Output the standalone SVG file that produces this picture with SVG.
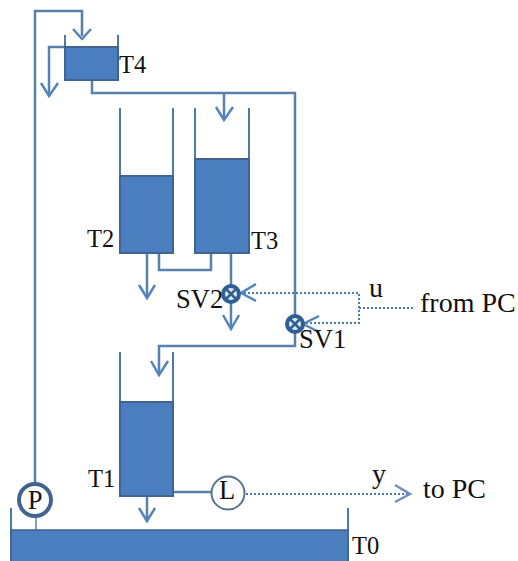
<svg xmlns="http://www.w3.org/2000/svg" width="518" height="561" viewBox="0 0 518 561">
<style>
.pipe{fill:none;stroke:#5a80ad;stroke-width:2.500}
.wall{fill:none;stroke:#4f79a9;stroke-width:2}
.arrow{fill:none;stroke:#5484bb;stroke-width:2.500}
.dot{fill:none;stroke:#4f79a9;stroke-width:2;stroke-dasharray:2 2}
.tank{fill:#4a7ebf;stroke:#41638f;stroke-width:2}
text{font-family:"Liberation Serif","Times New Roman",serif;font-size:24.500px;fill:#111}
.big{font-size:28px}
.mid{font-size:26.500px}
</style>
<rect width="518" height="561" fill="#fff"/>
<g id="connectors">
<path class="pipe" d="M35 484V11H82V36"/>
<path class="arrow" d="M73 29L82 39L91 29"/>
<path class="pipe" d="M65 47H49V95"/>
<path class="arrow" d="M41 83L49 96L58 83"/>
<path class="pipe" d="M92 80V93H295V316"/>
<path class="pipe" d="M224 93V118"/>
<path class="arrow" d="M216 107L224 120L233 107"/>
<path class="pipe" d="M147 253V298"/>
<path class="arrow" d="M139 285L147 298L155 285"/>
<path class="pipe" d="M159 253V270H211V253"/>
<path class="pipe" d="M231 253V285M231 303V328"/>
<path class="arrow" d="M223 315L231 329L239 315"/>
<path class="pipe" d="M295 332V346H159V374"/>
<path class="arrow" d="M151 361L159 375L168 361"/>
<path class="pipe" d="M147 496V520"/>
<path class="arrow" d="M139 508L147 521L155 508"/>
<path class="pipe" d="M173 492H212"/>
<path class="pipe" d="M36 516V561" style="stroke-width:1.500"/>
<path class="dot" d="M240 293H359V323H305M359 308H413"/>
<path class="arrow" d="M256 284L241 293L256 301"/>
<path class="arrow" d="M319 316L303 324L319 332"/>
<path class="dot" d="M246 494H408"/>
<path class="arrow" d="M395 485L410 494L395 502" style="stroke:#6f8fc0"/>
</g>
<g id="T4"><path class="wall" d="M65 35V47M118 35V47"/><rect class="tank" x="65" y="47" width="53" height="33"/><text x="119" y="73">T4</text></g>
<g id="T2"><path class="wall" d="M120 108V176M173 108V176"/><rect class="tank" x="120" y="176" width="53" height="77"/><text x="87" y="247">T2</text></g>
<g id="T3"><path class="wall" d="M195 108V159M249 108V159"/><rect class="tank" x="195" y="159" width="54" height="94"/><text x="251" y="249">T3</text></g>
<g id="T1"><path class="wall" d="M120 352V402M173 352V402"/><rect class="tank" x="120" y="402" width="53" height="94"/><text x="88" y="487">T1</text></g>
<g id="T0"><path class="wall" d="M11 508V561M348 508V561"/><rect class="tank" x="11" y="530" width="337" height="33" style="stroke-width:1.500"/><text x="352" y="554">T0</text></g>
<g id="SV2"><circle cx="231" cy="294" r="8" fill="#dfe8f3" stroke="#2f5f93" stroke-width="4"/><path d="M226 289L236 299M236 289L226 299" stroke="#2f5f93" stroke-width="2.500"/><text class="mid" x="176" y="308">SV2</text></g>
<g id="SV1"><circle cx="295" cy="324" r="8" fill="#dfe8f3" stroke="#2f5f93" stroke-width="4"/><path d="M290 319L300 329M300 319L290 329" stroke="#2f5f93" stroke-width="2.500"/><text class="mid" x="299" y="348">SV1</text></g>
<g id="P"><circle cx="35" cy="500" r="16" fill="#fff" stroke="#41638f" stroke-width="4"/><text class="mid" x="35" y="509" text-anchor="middle">P</text></g>
<g id="L"><circle cx="228" cy="493" r="16.500" fill="#fff" stroke="#5a7290" stroke-width="2"/><text class="mid" x="227" y="499" text-anchor="middle">L</text></g>
<g id="labels">
<text class="big" x="369" y="297">u</text>
<text class="big" x="420" y="312">from PC</text>
<text class="big" x="372" y="483">y</text>
<text class="big" x="423" y="498">to PC</text>
</g>
</svg>
